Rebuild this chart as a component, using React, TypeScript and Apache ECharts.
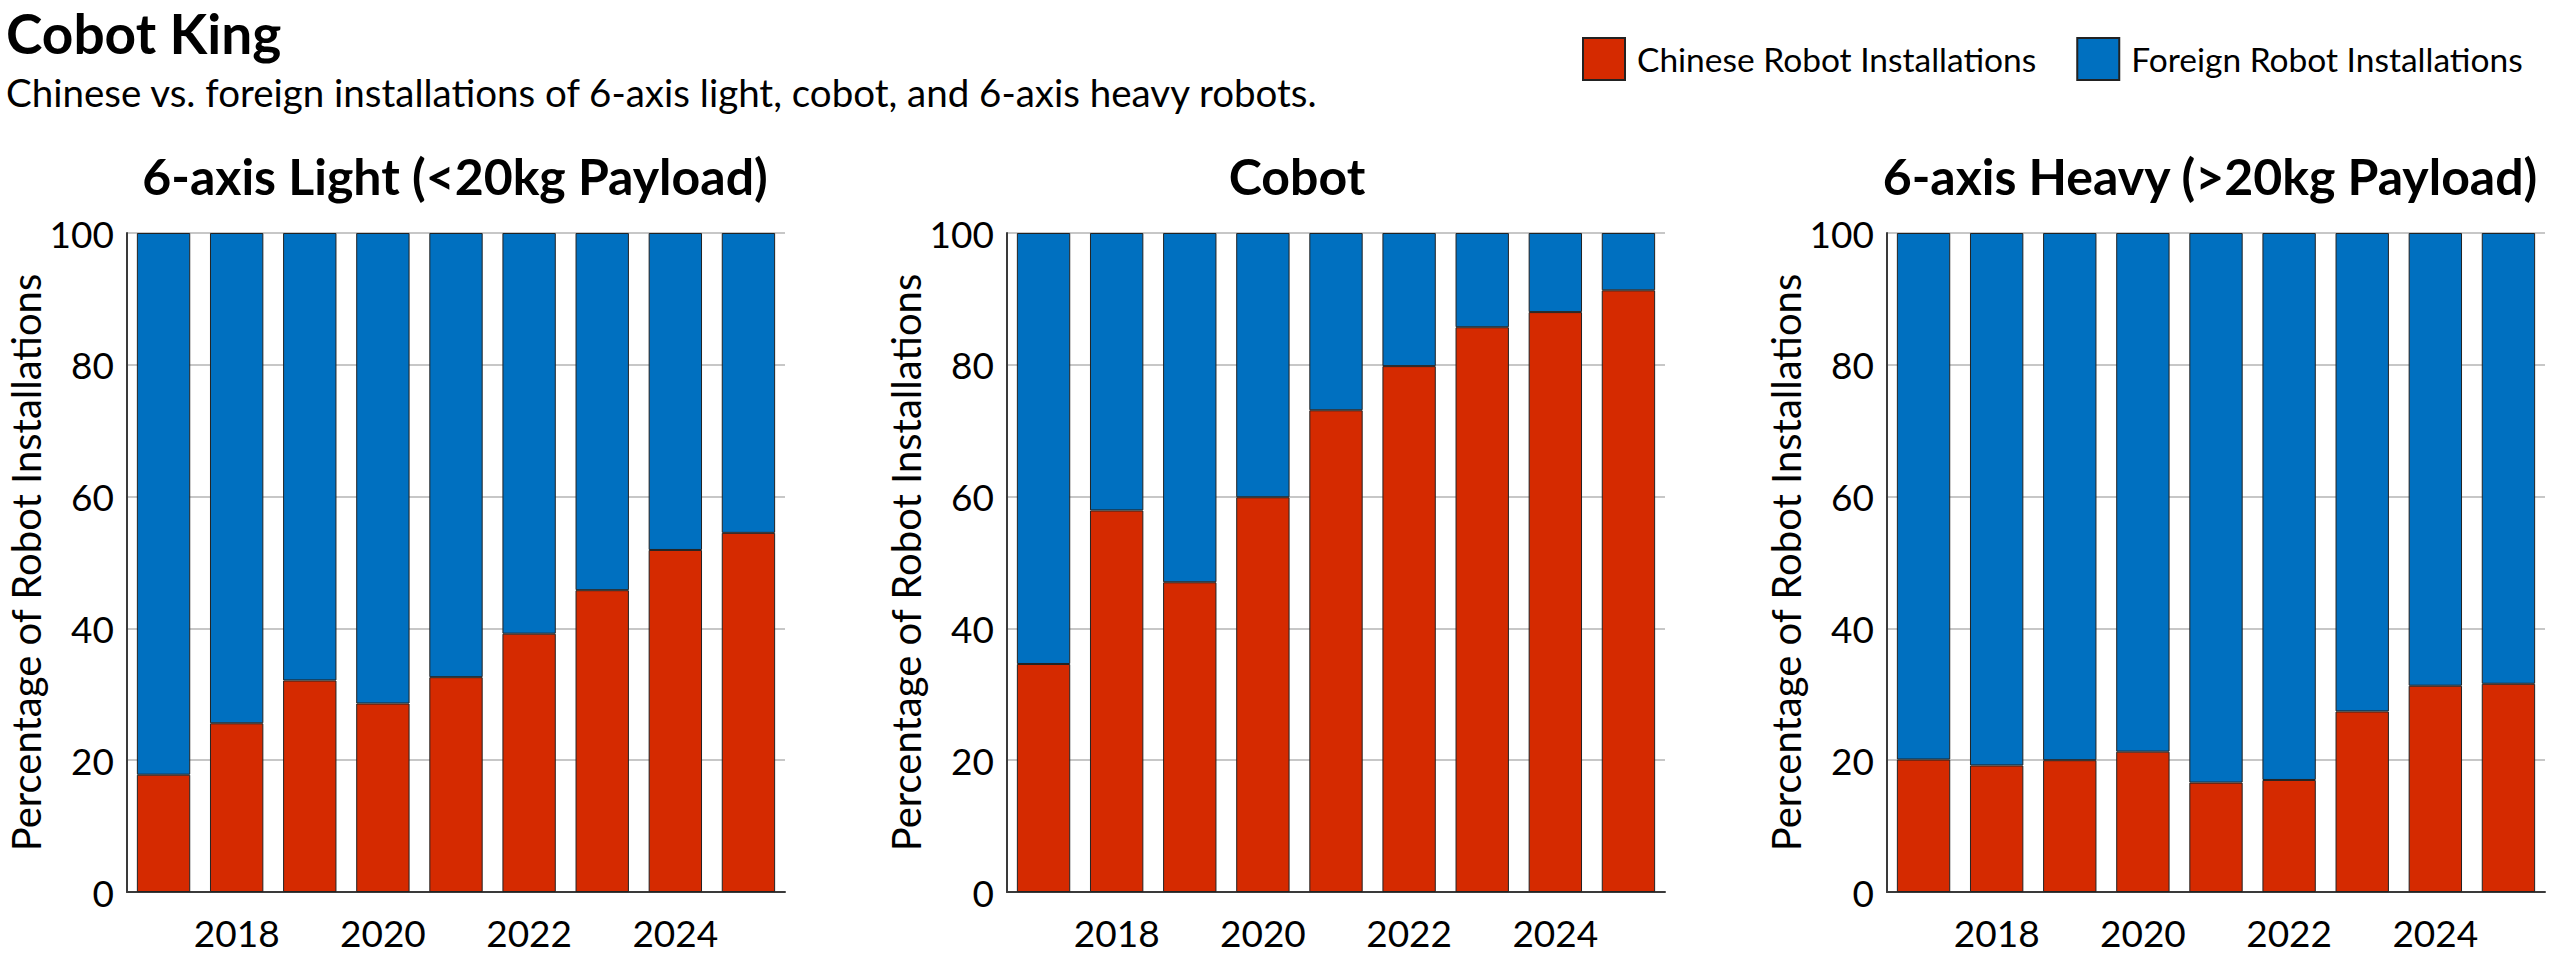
import { useEffect, useRef } from 'react';
import * as echarts from 'echarts';

const years = ['2017', '2018', '2019', '2020', '2021', '2022', '2023', '2024', '2025'];
const panelTitles = ['6-axis Light (<20kg Payload)', 'Cobot', '6-axis Heavy (>20kg Payload)'];
const seriesNames = ['Chinese Robot Installations', 'Foreign Robot Installations'];

// share of installations, percent
const lightChinese = [17.8, 25.6, 32.1, 28.6, 32.6, 39.2, 45.8, 51.9, 54.5];
const lightForeign = [82.2, 74.4, 67.9, 71.4, 67.4, 60.8, 54.2, 48.1, 45.5];
const cobotChinese = [34.6, 57.9, 47.0, 59.9, 73.1, 79.8, 85.7, 88.0, 91.3];
const cobotForeign = [65.4, 42.1, 53.0, 40.1, 26.9, 20.2, 14.3, 12.0, 8.7];
const heavyChinese = [20.1, 19.2, 20.0, 21.3, 16.6, 17.0, 27.4, 31.3, 31.6];
const heavyForeign = [79.9, 80.8, 80.0, 78.7, 83.4, 83.0, 72.6, 68.7, 68.4];

const FONT = 'Lato, "Noto Sans", sans-serif';
const RED = '#D52A00';
const BLUE = '#0070C0';
const AXIS = '#3a3a3a';

const gridLefts = [127, 1007, 1887];
const titleCenters = [455, 1297, 2210];

export default function App() {
  const chartRef = useRef<HTMLDivElement>(null);

  useEffect(() => {
    if (!chartRef.current) return;
    const chart = echarts.init(chartRef.current, null, { renderer: 'svg' });

    const panels = [
      [lightChinese, lightForeign],
      [cobotChinese, cobotForeign],
      [heavyChinese, heavyForeign],
    ];

    const grids = gridLefts.map((left) => ({ left, top: 233, width: 658, height: 659 }));

    const xAxes = panels.map((_, i) => ({
      type: 'category',
      gridIndex: i,
      data: years,
      axisLine: { lineStyle: { color: AXIS, width: 2 } },
      axisTick: { alignWithLabel: true, interval: 0, length: 16, lineStyle: { color: AXIS, width: 1.5 } },
      axisLabel: {
        interval: (idx: number) => idx % 2 === 1,
        fontSize: 37,
        fontFamily: FONT,
        color: '#000',
        margin: 22,
      },
    }));

    const yAxes = panels.map((_, i) => ({
      type: 'value',
      gridIndex: i,
      min: 0,
      max: 100,
      interval: 20,
      name: 'Percentage of Robot Installations',
      nameLocation: 'middle',
      nameGap: 76,
      nameTextStyle: { fontSize: 40, fontFamily: FONT, color: '#000' },
      axisLine: { show: true, lineStyle: { color: AXIS, width: 2 } },
      axisTick: { show: false },
      axisLabel: { fontSize: 37, fontFamily: FONT, color: '#000', margin: 13 },
      splitLine: { lineStyle: { color: '#b4b4b4', width: 1.5 } },
    }));

    const series: any[] = [];
    panels.forEach(([chinese, foreign], i) => {
      [chinese, foreign].forEach((values, k) => {
        series.push({
          name: seriesNames[k],
          type: 'bar',
          xAxisIndex: i,
          yAxisIndex: i,
          stack: 'panel' + i,
          barCategoryGap: '27%',
          data: values,
          itemStyle: { color: k === 0 ? RED : BLUE, borderColor: '#222', borderWidth: 1 },
        });
      });
    });

    const texts: any[] = [
      {
        type: 'text',
        left: 6,
        top: 5,
        style: { text: 'Cobot King', fontSize: 55, fontWeight: 'bold', fontFamily: FONT, fill: '#000' },
      },
      {
        type: 'text',
        left: 6,
        top: 72,
        style: {
          text: 'Chinese vs. foreign installations of 6-axis light, cobot, and 6-axis heavy robots.',
          fontSize: 38.5,
          fontFamily: FONT,
          fill: '#000',
        },
      },
      ...panelTitles.map((t, i) => ({
        type: 'text',
        x: titleCenters[i],
        y: 176,
        style: {
          text: t,
          align: 'center',
          verticalAlign: 'middle',
          fontSize: 50,
          fontWeight: 'bold',
          fontFamily: FONT,
          fill: '#000',
        },
      })),
    ];

    chart.setOption({
      animation: false,
      backgroundColor: '#fff',
      graphic: texts,
      legend: {
        data: seriesNames,
        left: 1577,
        top: 32,
        itemWidth: 42,
        itemHeight: 42,
        itemGap: 40,
        icon: 'rect',
        textStyle: { fontSize: 33.5, fontFamily: FONT, color: '#000', padding: [0, 0, 0, 7] },
      },
      grid: grids,
      xAxis: xAxes,
      yAxis: yAxes,
      series,
    });

    return () => {
      chart.dispose();
    };
  }, []);

  return (
    <div
      ref={chartRef}
      style={{ position: 'fixed', left: 0, top: 0, width: 2560, height: 958, background: '#fff' }}
    />
  );
}
